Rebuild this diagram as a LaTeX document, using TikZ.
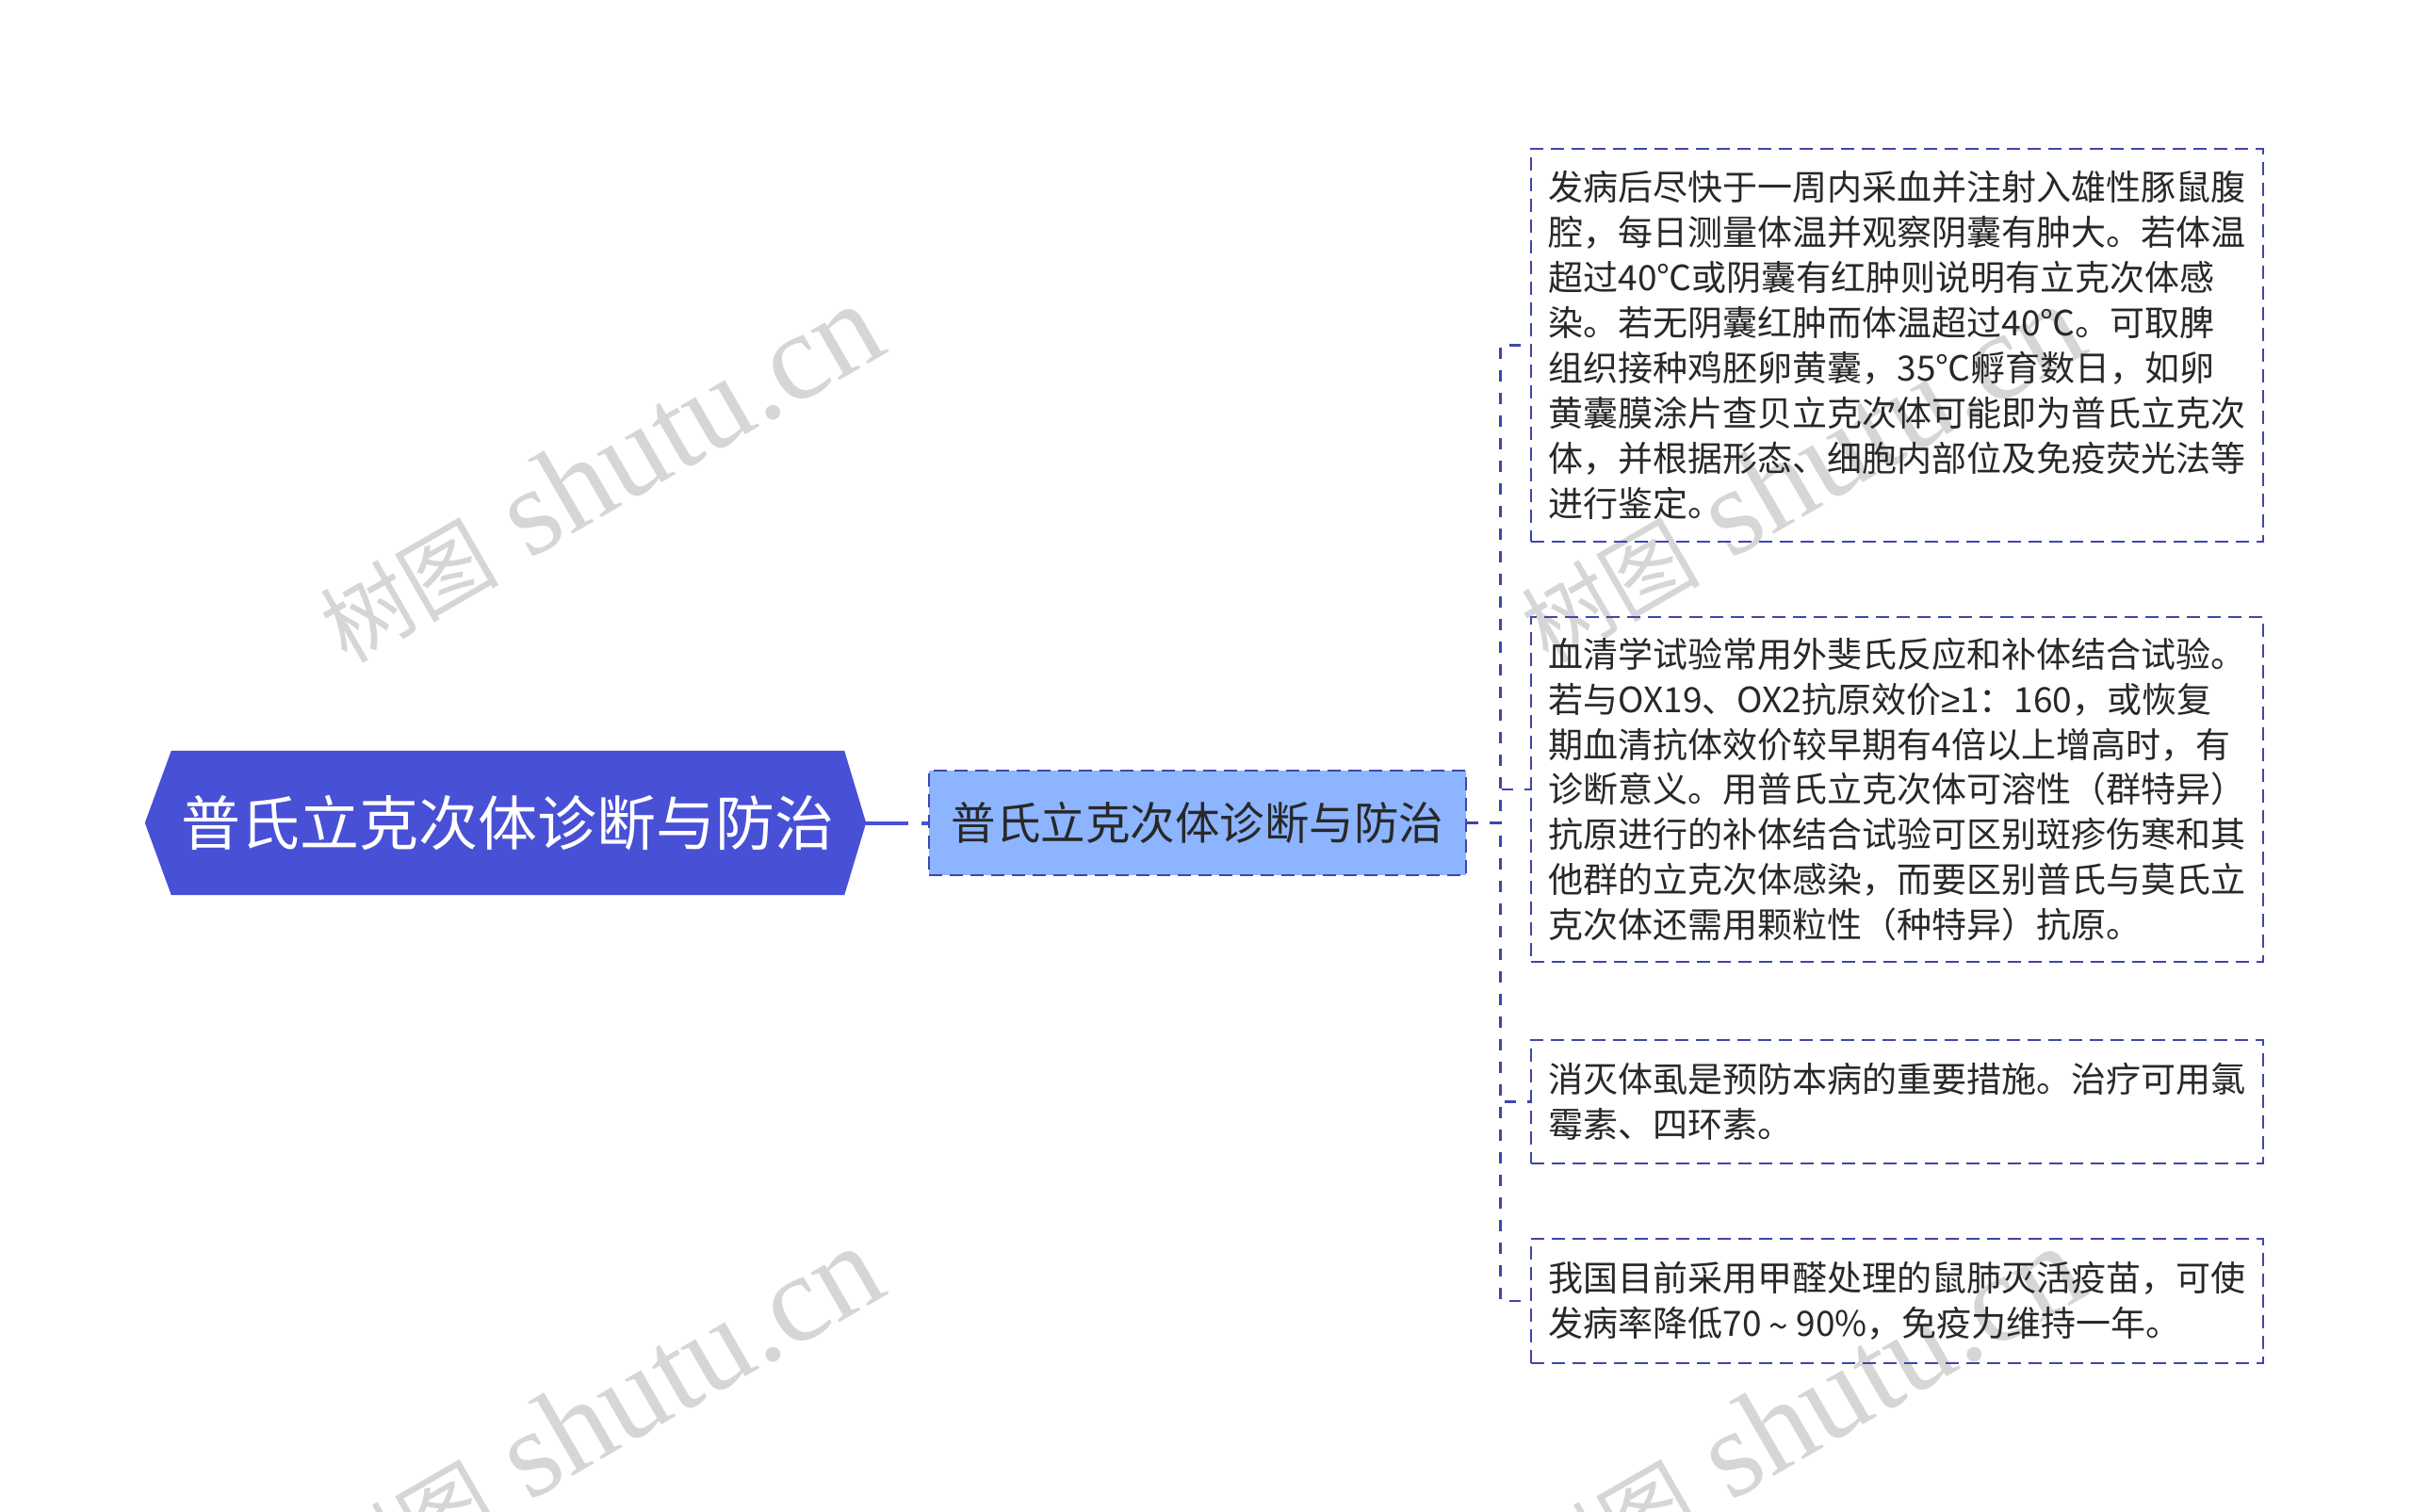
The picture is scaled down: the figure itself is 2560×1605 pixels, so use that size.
\documentclass[tikz,border=0pt]{standalone}
\usepackage{fontspec}
\setmainfont{Noto Sans CJK SC}
\newfontfamily\wmserif{Liberation Serif}
\newfontfamily\wmcjk{Noto Sans CJK SC}
\newfontfamily\symfont{Liberation Sans}
\usetikzlibrary{backgrounds}
\definecolor{rootblue}{RGB}{72,80,214}
\definecolor{childfill}{RGB}{140,180,255}
\definecolor{lineblue}{RGB}{62,70,172}
\definecolor{txt}{RGB}{40,40,40}
\definecolor{wm}{RGB}{214,214,214}
\begin{document}
\begin{tikzpicture}[x=1pt,y=-1pt,
  rootnode/.style={inner sep=0pt, minimum width=714pt, minimum height=153pt, text=white, font=\fontsize{63}{70}\selectfont},
  childnode/.style={draw=lineblue, line width=2.5pt, dash pattern=on 14pt off 8pt, fill=childfill, inner sep=0pt, minimum width=570pt, minimum height=111pt, text=txt, font=\fontsize{47.5}{55}\selectfont},
  leafnode/.style={draw=lineblue, line width=2.5pt, dash pattern=on 14pt off 8pt, inner xsep=18.5pt, inner ysep=0pt, text width=740pt, align=left, minimum width=777pt, text=txt, font=\fontsize{37}{47.9}\selectfont},
  conn/.style={draw=lineblue, line width=2.5pt, dash pattern=on 12pt off 12pt},
  rootconn/.style={draw=rootblue, line width=4pt, dash pattern=on 45pt off 14pt},
  wmark/.style={text=wm, rotate=30, anchor=base west, inner sep=0pt}
]
\clip (0,0) rectangle (2560,1605);
\begin{scope}[on background layer]
\fill[white] (0,0) rectangle (2560,1605);
\end{scope}

% watermarks
\node[wmark] (wm1) at (368,706) {{\wmcjk\fontsize{95}{95}\selectfont 树图}{\wmserif\fontsize{132}{132}\selectfont\ shutu.cn}};
\node[wmark] (wm2) at (368,1706) {{\wmcjk\fontsize{95}{95}\selectfont 树图}{\wmserif\fontsize{132}{132}\selectfont\ shutu.cn}};
\node[wmark] (wm3) at (1643,706) {{\wmcjk\fontsize{95}{95}\selectfont 树图}{\wmserif\fontsize{132}{132}\selectfont\ shutu.cn}};
\node[wmark] (wm4) at (1643,1706) {{\wmcjk\fontsize{95}{95}\selectfont 树图}{\wmserif\fontsize{132}{132}\selectfont\ shutu.cn}};

% root
\node[rootnode] (root) at (539,873.5) {普氏立克次体诊断与防治};
\begin{scope}[on background layer]
\fill[rootblue] (root.north west) -- (root.north east) -- ([xshift=23pt]root.east) -- (root.south east) -- (root.south west) -- ([xshift=-28pt]root.west) -- cycle;
\end{scope}
\coordinate (rootR) at ([xshift=23pt]root.east);

% child
\node[childnode] (child) at (1271,873.5) {普氏立克次体诊断与防治};

% leaves
\node[leafnode, minimum height=417pt] (leaf1) at (2013.5,366.5) {\noindent 发病后尽快于一周内采血并注射入雄性豚鼠腹\\
腔，每日测量体温并观察阴囊有肿大。若体温\\
超过40℃或阴囊有红肿则说明有立克次体感\\
染。若无阴囊红肿而体温超过40℃。可取脾\\
组织接种鸡胚卵黄囊，35℃孵育数日，如卵\\
黄囊膜涂片查贝立克次体可能即为普氏立克次\\
体，并根据形态、细胞内部位及免疫荧光法等\\
进行鉴定。};

\node[leafnode, minimum height=366pt] (leaf2) at (2013.5,838) {\noindent 血清学试验常用外斐氏反应和补体结合试验。\\
若与OX19、OX2抗原效价{\symfont ≥}1：160，或恢复\\
期血清抗体效价较早期有4倍以上增高时，有\\
诊断意义。用普氏立克次体可溶性（群特异）\\
抗原进行的补体结合试验可区别斑疹伤寒和其\\
他群的立克次体感染，而要区别普氏与莫氏立\\
克次体还需用颗粒性（种特异）抗原。};

\node[leafnode, minimum height=131pt] (leaf3) at (2013.5,1169.5) {\noindent 消灭体虱是预防本病的重要措施。治疗可用氯\\
霉素、四环素。};

\node[leafnode, minimum height=132pt] (leaf4) at (2013.5,1381) {\noindent 我国目前采用甲醛处理的鼠肺灭活疫苗，可使\\
发病率降低70\makebox[37pt]{\raisebox{-3pt}{\textasciitilde}}90\%，免疫力维持一年。};

% connectors
\draw[rootconn] (rootR) -- (child.west);
\draw[conn] (child.east) -- ++(35,0) |- (leaf1.west);
\draw[conn] (child.east) -- ++(35,0) |- (leaf2.west);
\draw[conn] (child.east) -- ++(35,0) |- (leaf3.west);
\draw[conn] (child.east) -- ++(35,0) |- (leaf4.west);
\end{tikzpicture}
\end{document}
